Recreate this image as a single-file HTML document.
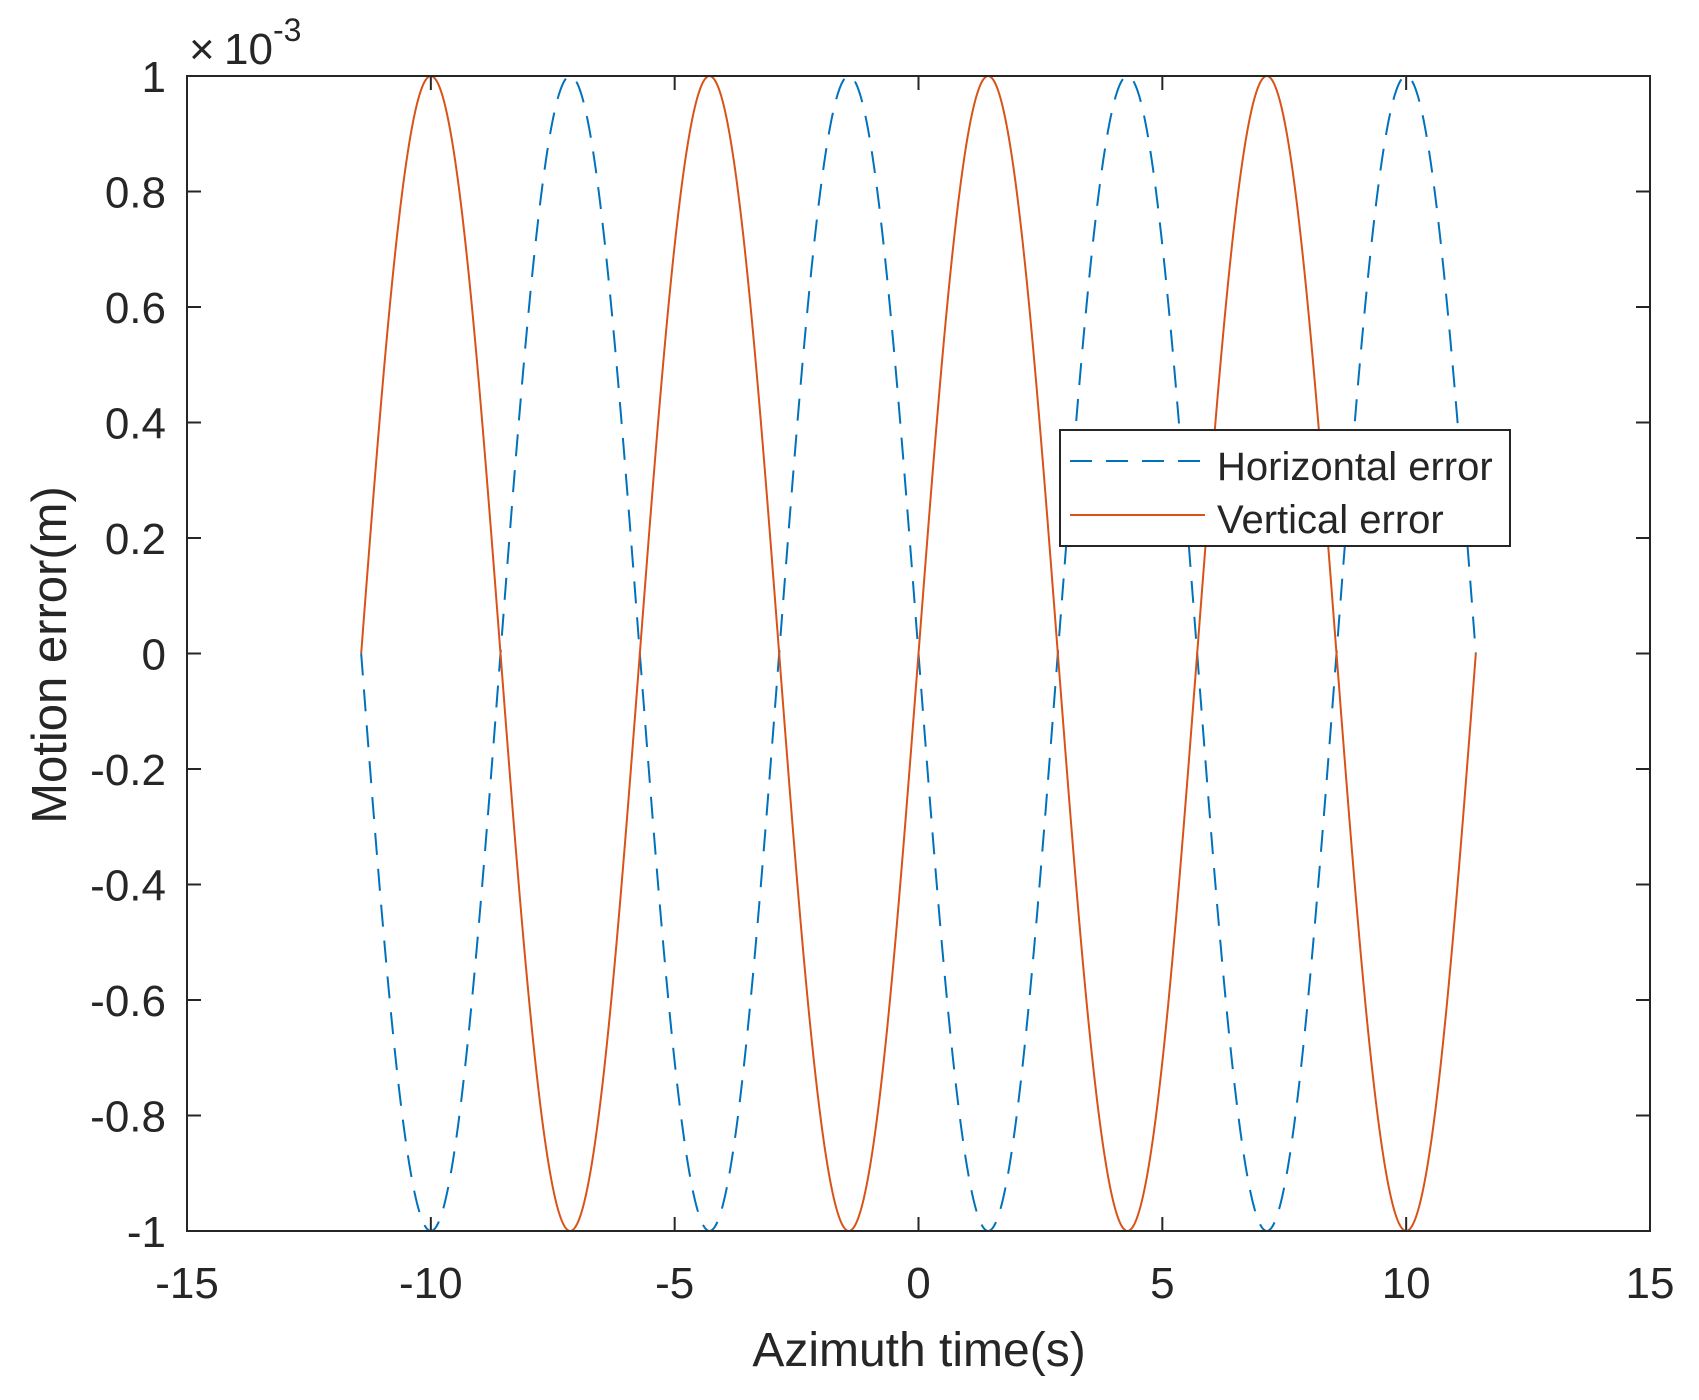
<!DOCTYPE html>
<html><head><meta charset="utf-8"><style>
html,body{margin:0;padding:0;background:#fff}
svg{display:block}
text{font-family:"Liberation Sans",Arial,sans-serif;fill:#262626}
</style></head><body>
<svg id="s" width="1699" height="1400" viewBox="0 0 1699 1400" xmlns="http://www.w3.org/2000/svg">
<rect width="1699" height="1400" fill="#fff"/>
<g id="ticks" stroke="#262626" stroke-width="2"></g>
<polyline id="blue" fill="none" stroke="#0072BD" stroke-width="2" stroke-dasharray="22,14"/>
<polyline id="red" fill="none" stroke="#D95319" stroke-width="2"/>
<rect x="187" y="76" width="1463" height="1155" fill="none" stroke="#262626" stroke-width="2"/>
<g id="labels" font-size="44"></g>
<text x="189" y="64" font-size="44" fill="#444">×</text>
<text x="224" y="64" font-size="44">10</text>
<text x="273" y="41" font-size="32">-3</text>
<text x="919" y="1366" font-size="48" text-anchor="middle">Azimuth time(s)</text>
<text transform="translate(66,655) rotate(-90)" font-size="49" text-anchor="middle">Motion error(m)</text>
<rect x="1060" y="430" width="450" height="116" fill="#fff" stroke="#262626" stroke-width="2"/>
<line x1="1070" y1="461" x2="1205" y2="461" stroke="#0072BD" stroke-width="2" stroke-dasharray="22,14"/>
<line x1="1070" y1="515" x2="1205" y2="515" stroke="#D95319" stroke-width="2"/>
<text x="1217" y="480" font-size="40">Horizontal error</text>
<text x="1217" y="533" font-size="40">Vertical error</text>
</svg>
<script>
var L=187,R=1650,T=76,B=1231;
function X(t){return L+(t+15)*(R-L)/30}
function Y(v){return T+(1-v)*(B-T)/2}
var ns="http://www.w3.org/2000/svg";
var tk=document.getElementById('ticks'),lb=document.getElementById('labels');
function el(p,n,a,txt){var e=document.createElementNS(ns,n);for(var k in a)e.setAttribute(k,a[k]);if(txt!=null)e.textContent=txt;p.appendChild(e);}
for(var t=-15;t<=15;t+=5){var x=X(t);
el(tk,'line',{x1:x,y1:B,x2:x,y2:B-14});el(tk,'line',{x1:x,y1:T,x2:x,y2:T+14});
el(lb,'text',{x:x,y:1298,'text-anchor':'middle'},String(t));}
for(var i=-5;i<=5;i++){var v=i/5,y=Y(v);
el(tk,'line',{x1:L,y1:y,x2:L+14,y2:y});el(tk,'line',{x1:R,y1:y,x2:R-14,y2:y});
var s=(i==5?'1':i==-5?'-1':i==0?'0':(v<0?'-':'')+'0.'+Math.abs(i*2));
el(lb,'text',{x:166,y:y+16,'text-anchor':'end'},s);}
var a=-80/7,b=80/7,n=1200,pb=[],pr=[];
for(var k=0;k<=n;k++){var t=a+(b-a)*k/n,v=Math.sin(2*Math.PI*0.175*t);
pr.push(X(t).toFixed(2)+','+Y(v).toFixed(2));pb.push(X(t).toFixed(2)+','+Y(-v).toFixed(2));}
document.getElementById('red').setAttribute('points',pr.join(' '));
document.getElementById('blue').setAttribute('points',pb.join(' '));
</script>
</body></html>
